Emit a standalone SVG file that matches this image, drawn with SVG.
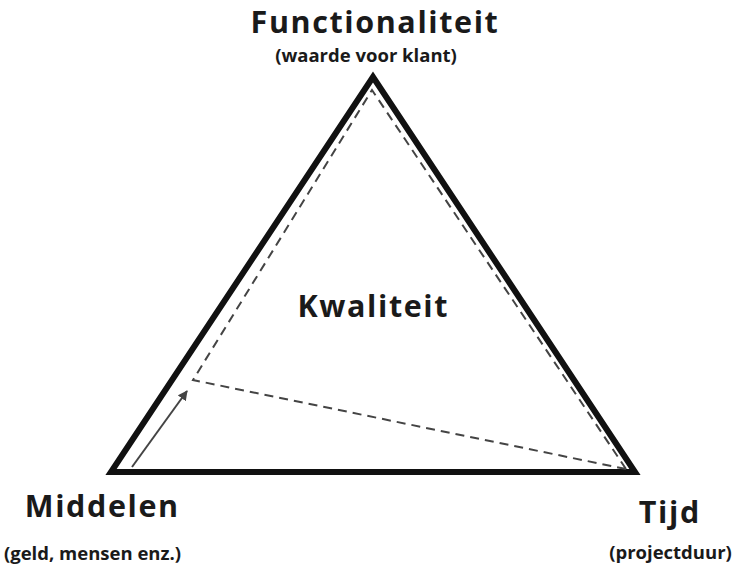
<svg xmlns="http://www.w3.org/2000/svg" width="733" height="566" viewBox="0 0 733 566">
<defs>
<style>
.t{font-family:"Open Sans","Noto Sans","DejaVu Sans",sans-serif;font-weight:bold;fill:#1a1a1a;text-anchor:middle}
.big{font-size:30.5px;letter-spacing:1.6px}
.small{font-size:18.5px}
.dash{fill:none;stroke:#444;stroke-width:2;stroke-dasharray:9 6}
</style>
<marker id="ah" viewBox="0 0 10 10" refX="9" refY="5" markerWidth="5" markerHeight="5" orient="auto" markerUnits="strokeWidth">
<path d="M0,0 L10,5 L0,10 z" fill="#444"/>
</marker>
</defs>
<rect width="733" height="566" fill="#fff"/>
<g id="connectors">
<polygon points="373,77 111,472 635,472" fill="none" stroke="#111" stroke-width="6" stroke-linejoin="miter"/>
<polyline class="dash" points="626,469 372,90 193,380 626,469"/>
<line x1="132" y1="467" x2="187" y2="391" stroke="#444" stroke-width="2" marker-end="url(#ah)"/>
</g>
<g id="functionaliteit">
<text class="t big" x="375" y="33">Functionaliteit</text>
<text class="t small" x="366" y="62">(waarde voor klant)</text>
</g>
<g id="kwaliteit">
<text class="t big" x="373.3" y="317">Kwaliteit</text>
</g>
<g id="middelen">
<text class="t big" x="102.3" y="517">Middelen</text>
<text class="t small" x="92.5" y="560">(geld, mensen enz.)</text>
</g>
<g id="tijd">
<text class="t big" x="669.8" y="523">Tijd</text>
<text class="t small" x="670.5" y="559">(projectduur)</text>
</g>
</svg>
